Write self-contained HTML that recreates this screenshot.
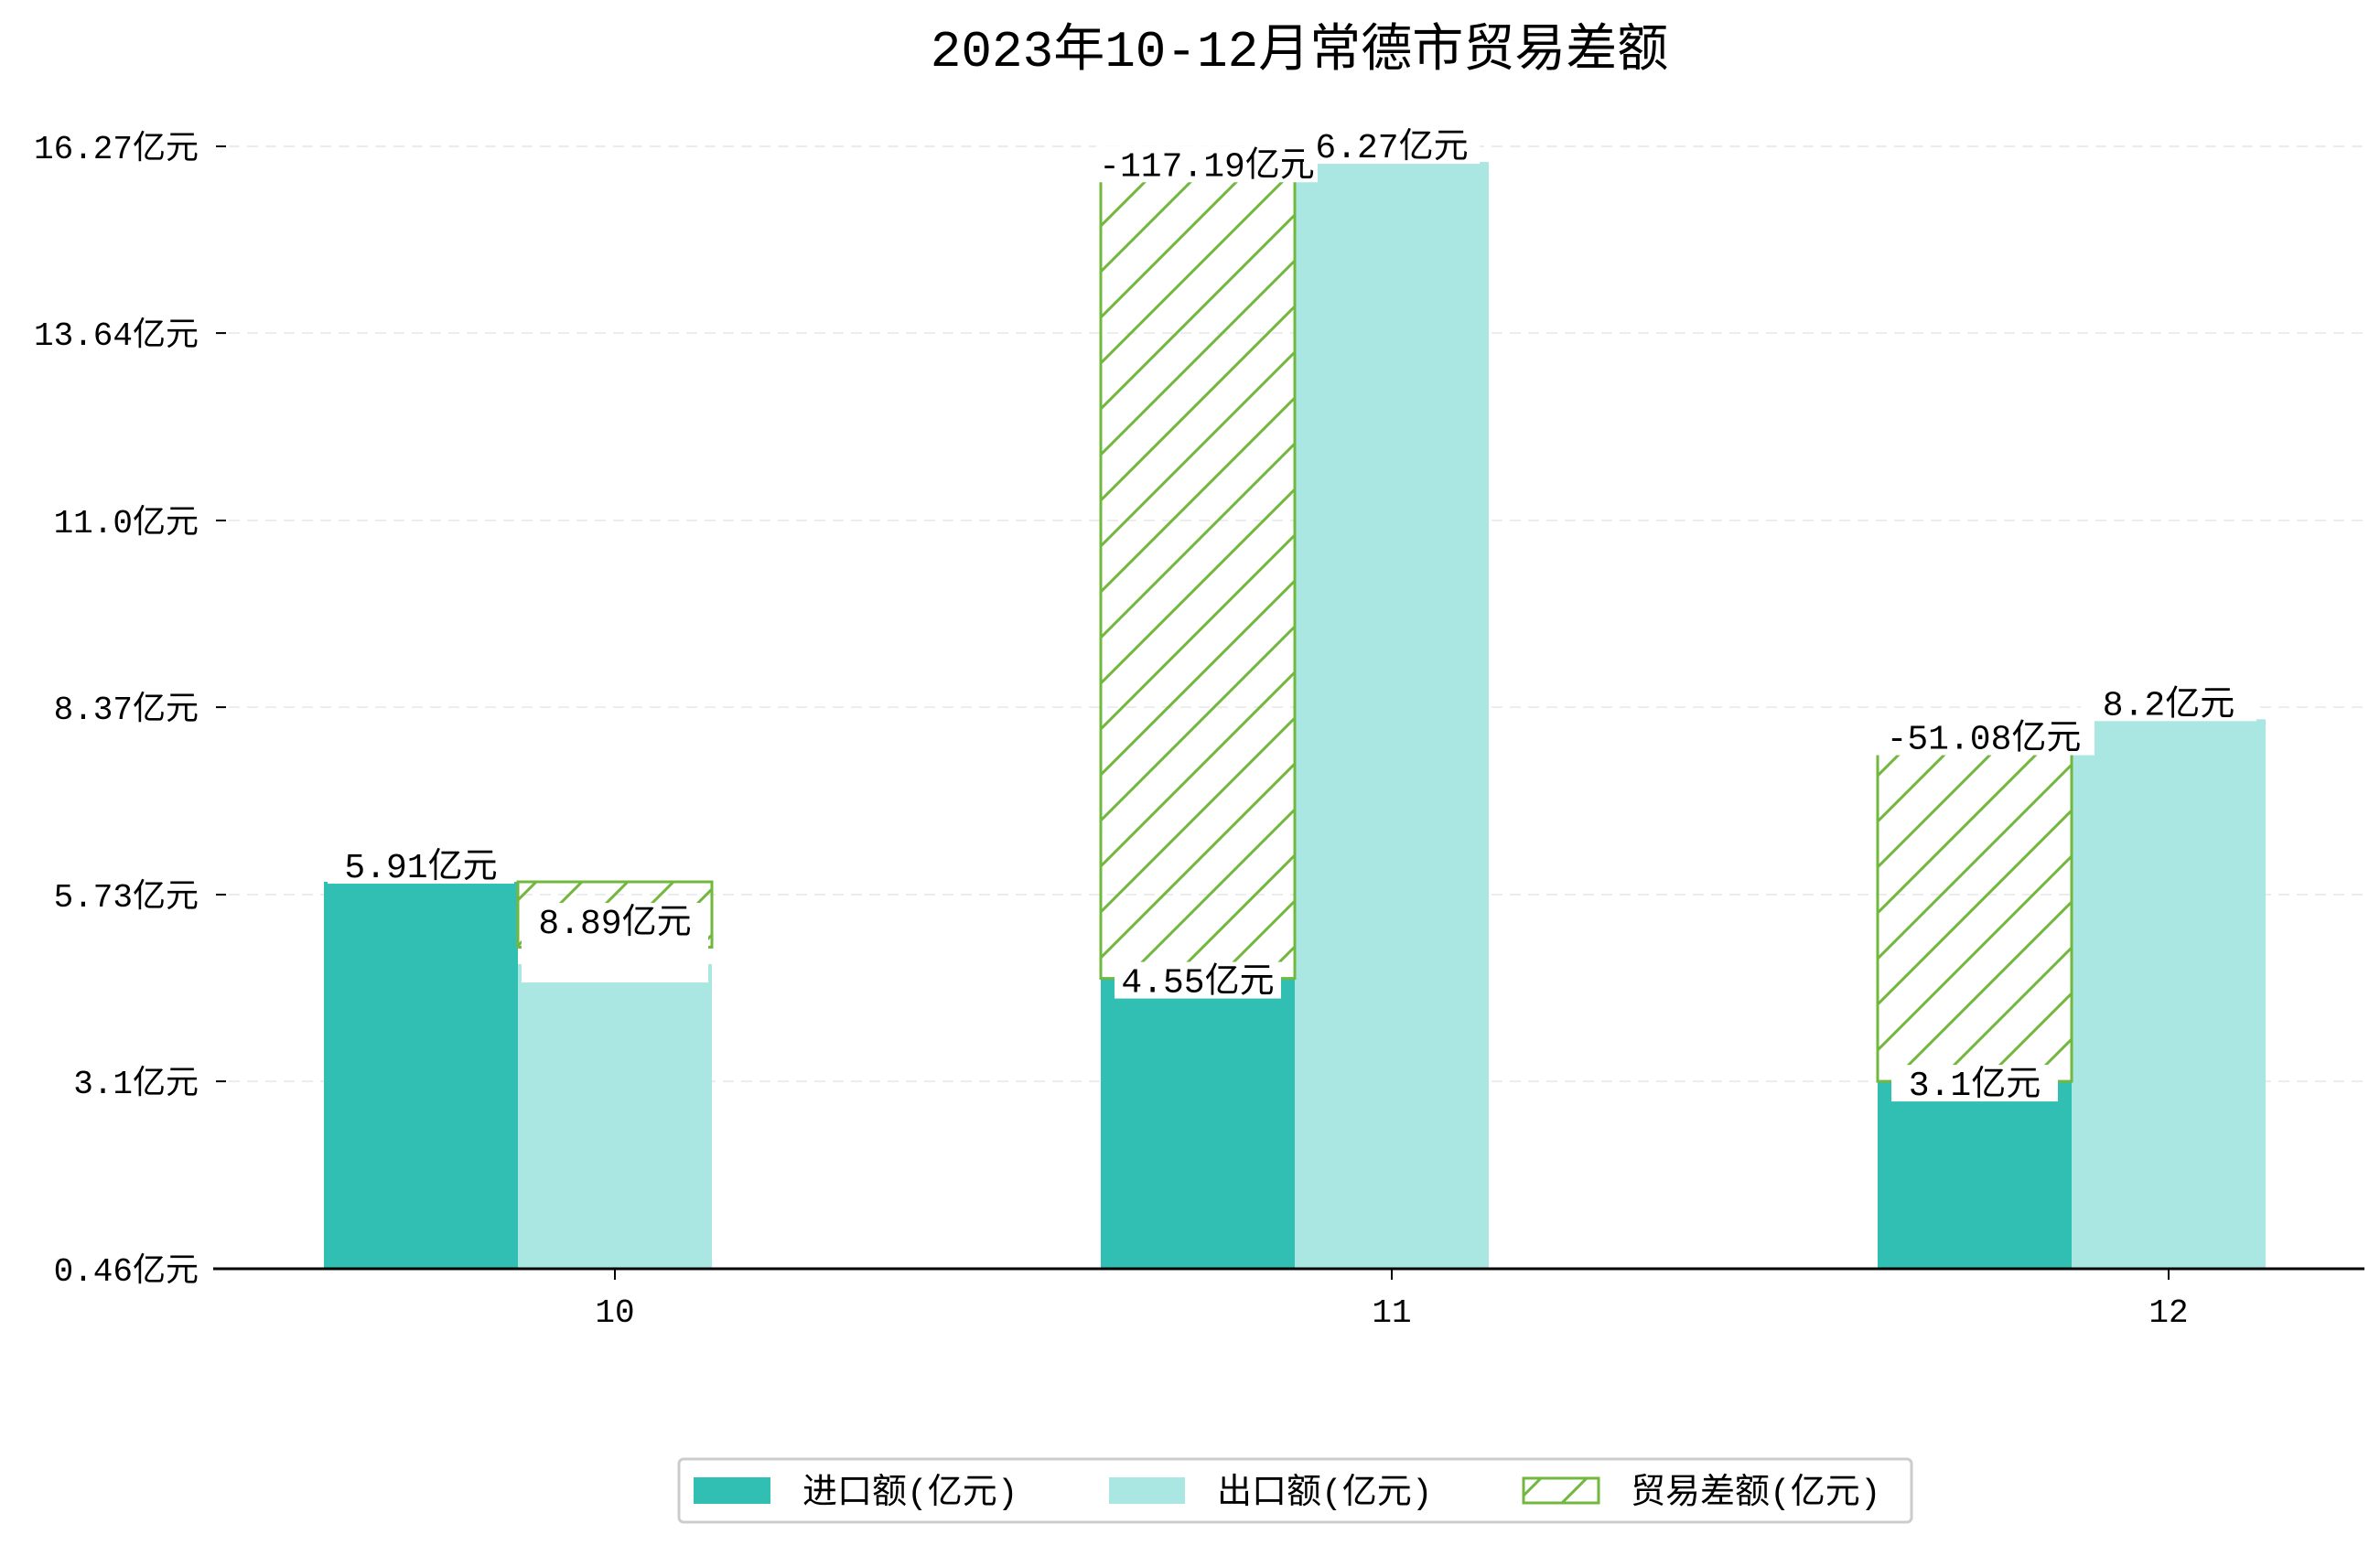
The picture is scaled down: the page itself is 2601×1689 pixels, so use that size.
<!DOCTYPE html>
<html><head><meta charset="utf-8">
<style>
html,body{margin:0;padding:0;background:#fff;}
svg{display:block;font-family:"Liberation Mono","Noto Sans CJK SC",monospace;}
</style></head>
<body>
<svg id="chart" width="2601" height="1689" viewBox="0 0 2601 1689" xmlns="http://www.w3.org/2000/svg">
<defs>
<pattern id="hatch" patternUnits="userSpaceOnUse" width="50" height="50">
<path d="M-5,5 L5,-5 M0,50 L50,0 M45,55 L55,45" stroke="#72b83e" stroke-width="3"/>
</pattern>
</defs>
<text x="1420" y="72" text-anchor="middle" font-size="56" fill="#000">2023年10-12月常德市贸易差额</text>
<g id="grid"></g>
<g id="bars"></g>
<g id="labels"></g>
<g id="axes"></g>
<g>
<rect x="742" y="1595" width="1347" height="69" rx="5" fill="#fff" stroke="#ccc" stroke-width="3"/>
<rect x="758" y="1615" width="84" height="29" fill="#32bfb3"/>
<text x="877" y="1643" font-size="38">进口额(亿元)</text>
<rect x="1212" y="1615" width="83" height="29" fill="#aae7e2"/>
<text x="1330" y="1643" font-size="38">出口额(亿元)</text>
<rect x="1665" y="1616" width="82" height="27" fill="url(#hatch)" stroke="#72b83e" stroke-width="3"/>
<text x="1782" y="1643" font-size="38">贸易差额(亿元)</text>
</g>
</svg>
<script>
const categories = ["10", "11", "12"];
const importValues = [5.91, 4.55, 3.1];
const exportValues = [4.75, 16.05, 8.2];
const balanceBottom = [4.99, 4.55, 3.1];
const balanceTop = [5.91, 15.79, 7.72];
const balanceSlot = [1, 0, 0];
const importLabels = ["5.91亿元", "4.55亿元", "3.1亿元"];
const exportLabels = ["8.89亿元", "6.27亿元", "8.2亿元"];
const balanceLabels = ["", "-117.19亿元", "-51.08亿元"];
const yTicks = [0.46, 3.1, 5.73, 8.37, 11.0, 13.64, 16.27];
const yTickLabels = ["0.46亿元", "3.1亿元", "5.73亿元", "8.37亿元", "11.0亿元", "13.64亿元", "16.27亿元"];

const NS = "http://www.w3.org/2000/svg";
const X0 = 233, X1 = 2584, Y0 = 1387;
const PXU = 204.5 / 2.635;
function y(v) { return Y0 - (v - 0.46) * PXU; }
function xc(i) { return 672 + i * 849; }
const BW = 212;
function slotX(i, s) { return xc(i) - 1.5 * BW + s * BW; }
function mk(tag, attrs, parent) {
  const e = document.createElementNS(NS, tag);
  for (const k in attrs) e.setAttribute(k, attrs[k]);
  parent.appendChild(e);
  return e;
}
const grid = document.getElementById('grid');
const bars = document.getElementById('bars');
const labels = document.getElementById('labels');
const axes = document.getElementById('axes');

yTicks.forEach((t, i) => {
  if (i > 0) {
    const g = mk('line', {x1: 250, x2: X1, y1: y(t), y2: y(t), stroke: '#ececec', 'stroke-width': 2, 'stroke-dasharray': '12,8'}, grid);
    
    
  }
  const tk = mk('line', {x1: 236, x2: 247, y1: y(t), y2: y(t), stroke: '#000', 'stroke-width': 2}, axes);
  
  
  const tl = mk('text', {x: 217, y: y(t) + 13, 'text-anchor': 'end', 'font-size': 36}, axes);
  tl.textContent = yTickLabels[i];
  
  
});

function labelBox(text, cx, ty, w, bh) {
  const h = bh || 40;
  const r = mk('rect', {x: cx - w / 2, y: ty - 38, width: w, height: h, fill: '#fff'}, labels);
  
  
  const t = mk('text', {x: cx, y: ty - 5, 'text-anchor': 'middle', 'font-size': 38}, labels);
  t.textContent = text;
  
  
}

categories.forEach((c, i) => {
  const ix = slotX(i, 0), ex = slotX(i, 1);
  const b1 = mk('rect', {x: ix, y: y(importValues[i]), width: BW, height: Y0 - y(importValues[i]), fill: '#32bfb3'}, bars);
  
  
  const b2 = mk('rect', {x: ex, y: y(exportValues[i]), width: BW, height: Y0 - y(exportValues[i]), fill: '#aae7e2'}, bars);
  
  
  const bx = slotX(i, balanceSlot[i]);
  const b3 = mk('rect', {x: bx, y: y(balanceTop[i]), width: BW, height: y(balanceBottom[i]) - y(balanceTop[i]), fill: 'url(#hatch)', stroke: '#72b83e', 'stroke-width': 3}, bars);
  
  

  const tk = mk('line', {x1: xc(i), x2: xc(i), y1: Y0, y2: Y0 + 12, stroke: '#000', 'stroke-width': 2}, axes);
  
  
  const tl = mk('text', {x: xc(i), y: Y0 + 58, 'text-anchor': 'middle', 'font-size': 36}, axes);
  tl.textContent = c;
  
  
});

categories.forEach((c, i) => {
  const bs = balanceSlot[i];
  if (bs === 1) {
    labelBox(importLabels[i], slotX(i, 0) + BW / 2, y(importValues[i]), BW - 8);
    const top = y(balanceTop[i]) + 3;
    const ty = top + 38 + 20;
    labelBox(exportLabels[i], slotX(i, 1) + BW / 2, ty, BW - 8, y(exportValues[i]) - top);
  } else {
    labelBox(importLabels[i], slotX(i, 0) + BW / 2, y(importValues[i]) + 20, BW - 30);
    labelBox(balanceLabels[i], slotX(i, 0) + BW / 2 + 10, y(balanceTop[i]), BW + 30);
    labelBox(exportLabels[i], slotX(i, 1) + BW / 2, y(exportValues[i]), BW - 20);
  }
});

const ax = mk('line', {x1: X0, x2: X1, y1: Y0, y2: Y0, stroke: '#000', 'stroke-width': 3}, axes);


</script>
</body></html>
